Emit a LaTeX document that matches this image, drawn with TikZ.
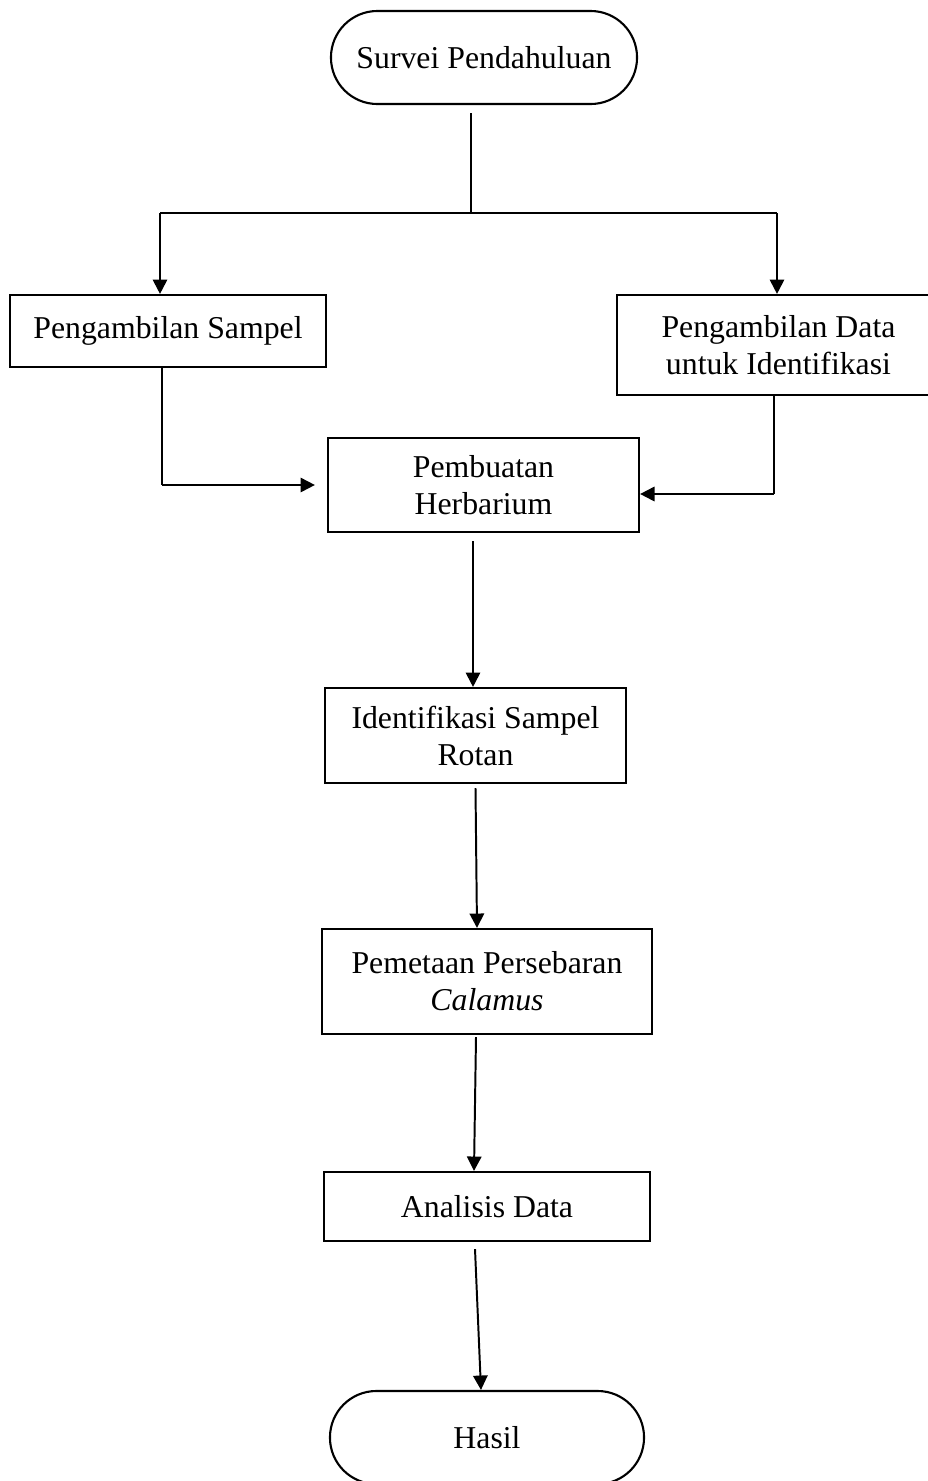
\documentclass[tikz,border=0pt]{standalone}
\usepackage{fontspec}
\setmainfont{Liberation Serif}
\usepackage{tikz}
\usetikzlibrary{arrows.meta,calc}
\newcommand{\flowfont}{\fontsize{22.6}{26.3}\selectfont}

\begin{document}
\begin{tikzpicture}[x=0.025cm, y=-0.025cm,
    box/.style={draw, line width=1.5pt, inner sep=0pt, align=center, font=\flowfont},
    terminal/.style={box, rounded corners=1.16cm, minimum width=#1, minimum height=2.325cm},
    flow/.style={-{Triangle[length=0.36cm, width=0.36cm]}, line width=1.4pt},
    link/.style={line width=0.9pt}]
  \useasboundingbox (0,0) rectangle (928,1481);
  \node[terminal=7.65cm] (survei) at (484,57.5) {Survei Pendahuluan};
  \node[box, minimum width=7.9cm, minimum height=1.8cm] (sampel) at (168,331) {Pengambilan Sampel};
  \node[box, minimum width=8.075cm, minimum height=2.5cm] (datai) at (778.5,345) {Pengambilan Data\\untuk Identifikasi};
  \node[box, minimum width=7.775cm, minimum height=2.35cm] (herbarium) at (483.5,485) {Pembuatan\\Herbarium};
  \node[box, minimum width=7.525cm, minimum height=2.375cm] (identifikasi) at (475.5,735.5) {Identifikasi Sampel\\Rotan};
  \node[box, minimum width=8.25cm, minimum height=2.625cm] (pemetaan) at (487,981.5) {Pemetaan Persebaran\\\textit{Calamus}};
  \node[box, minimum width=8.15cm, minimum height=1.725cm] (analisis) at (487,1206.5) {Analisis Data};
  \node[terminal=7.85cm] (hasil) at (487,1437.5) {Hasil};

  \coordinate (cabang) at (471,213);
  \coordinate (cabangL) at (160,213);
  \coordinate (cabangR) at (777,213);
  \coordinate (belokL) at (162,485);
  \coordinate (belokR) at (774,494);

  \draw[link] ($(survei.south)+(-13,8)$) -- (cabang);
  \draw[link] (cabangL) -- (cabangR);
  \draw[flow] (cabangL) -- (cabangL |- sampel.north);
  \draw[flow] (cabangR) -- (cabangR |- datai.north);
  \draw[link] ($(sampel.south)+(-6,0)$) -- (belokL);
  \draw[flow] (belokL) -- ($(herbarium.west)+(-12,0)$);
  \draw[link] ($(datai.south)+(-4.5,0)$) -- (belokR);
  \draw[flow] (belokR) -- (belokR -| herbarium.east);
  \draw[flow] ($(herbarium.south)+(-10.5,8)$) -- ($(identifikasi.north)+(-2.5,0)$);
  \draw[flow] ($(identifikasi.south)+(0,4)$) -- ($(pemetaan.north)+(-10,0)$);
  \draw[flow] ($(pemetaan.south)+(-11,2)$) -- ($(analisis.north)+(-13,0)$);
  \draw[flow] ($(analisis.south)+(-12,7)$) -- ($(hasil.north)+(-6,0)$);
\end{tikzpicture}
\end{document}
